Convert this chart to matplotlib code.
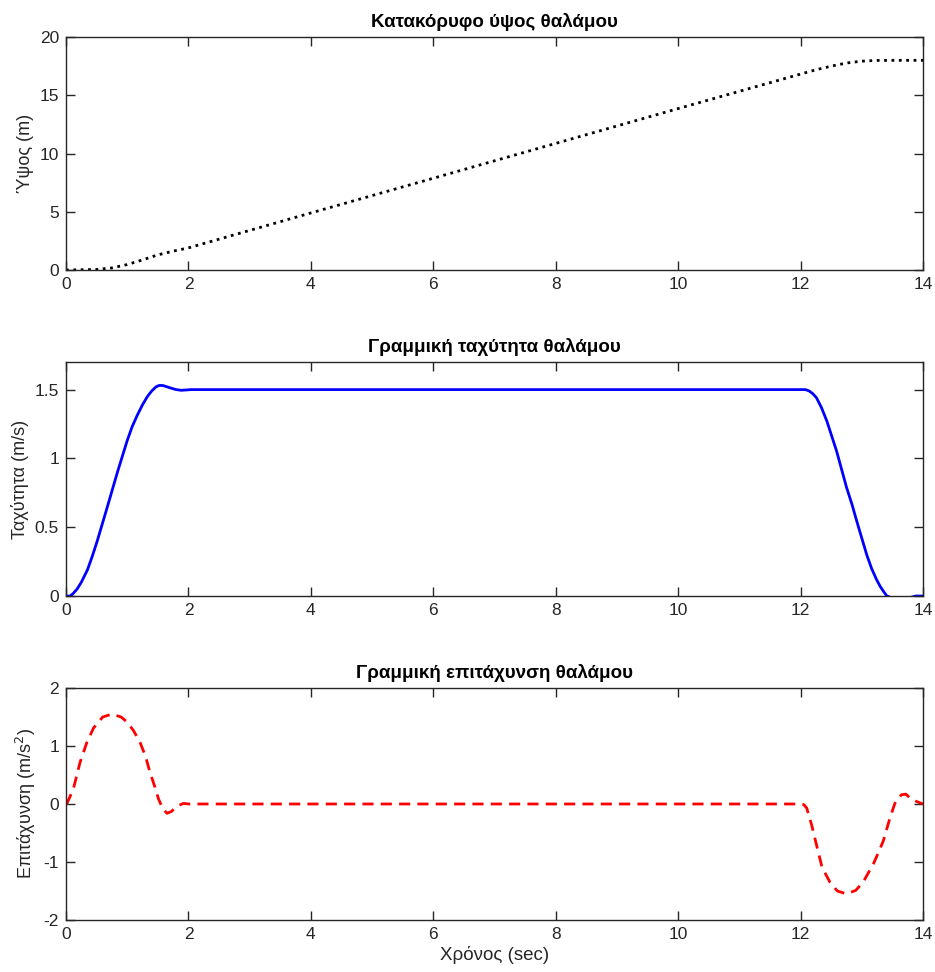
import numpy as np
import matplotlib.pyplot as plt

# values
t_h = [0, 0.5, 0.75, 1.0, 1.25, 1.5, 1.75, 2.0, 4.0, 6.0, 8.0, 10.0, 12.0,
       12.25, 12.5, 12.75, 13.0, 13.25, 13.5, 14.0]
h = [0, 0.05, 0.18, 0.47, 0.87, 1.3, 1.62, 1.9, 4.9, 7.88, 10.87, 13.86, 16.82,
     17.19, 17.5, 17.77, 17.93, 17.99, 18.0, 18.0]

t_v = [0, 0.07, 0.12, 0.18, 0.25, 0.35, 0.43, 0.51, 0.67, 0.84, 1.0, 1.08,
       1.16, 1.25, 1.33, 1.4, 1.47, 1.52, 1.58, 1.65, 1.72, 1.8, 1.88, 1.95,
       2.05, 12.0, 12.08, 12.14, 12.2, 12.26, 12.34, 12.43, 12.51, 12.59,
       12.67, 12.75, 12.84, 12.92, 13.0, 13.08, 13.16, 13.24, 13.3, 13.36,
       13.41, 13.5, 13.65, 13.8, 13.88, 14.0]
v = [0, 0, 0.02, 0.05, 0.1, 0.19, 0.29, 0.40, 0.64, 0.90, 1.13, 1.23,
     1.31, 1.39, 1.45, 1.49, 1.52, 1.53, 1.53, 1.52, 1.51, 1.5, 1.495, 1.497,
     1.5, 1.5, 1.5, 1.49, 1.47, 1.44, 1.37, 1.27, 1.16, 1.05,
     0.92, 0.79, 0.665, 0.54, 0.42, 0.30, 0.2, 0.12, 0.07, 0.03,
     0.0, -0.015, -0.025, -0.01, 0.0, 0.0]

t_a = [0, 0.02, 0.12, 0.23, 0.34, 0.45, 0.6, 0.75, 0.9, 0.99, 1.1, 1.21, 1.3,
       1.37, 1.45, 1.51, 1.58, 1.65, 1.72, 1.78, 1.85, 1.92, 2.0, 12.0, 12.05,
       12.1, 12.18, 12.27, 12.35, 12.48, 12.6, 12.75, 12.9, 13.02, 13.1, 13.19,
       13.27, 13.35, 13.46, 13.54, 13.6, 13.65, 13.72, 13.79, 13.9, 14.0]
a = [0, 0.02, 0.26, 0.72, 1.06, 1.31, 1.5, 1.55, 1.5, 1.42, 1.27, 1.06, 0.82,
     0.55, 0.3, 0.09, -0.08, -0.16, -0.13, -0.07, -0.02, 0.01, 0.0, 0.0, -0.01,
     -0.07, -0.36, -0.75, -1.09, -1.35, -1.5, -1.55, -1.49, -1.35, -1.2, -1.03,
     -0.84, -0.64, -0.24, 0.01, 0.11, 0.16, 0.17, 0.1, 0.04, 0.0]

plt.rcParams['font.family'] = ['Liberation Sans', 'DejaVu Sans']
plt.rcParams['axes.unicode_minus'] = False
edge = '#262626'

fig = plt.figure(figsize=(9.35, 9.72), dpi=100)
ax1 = fig.add_axes([0.0706, 0.7222, 0.9166, 0.2397])
ax2 = fig.add_axes([0.0706, 0.3868, 0.9166, 0.2407])
ax3 = fig.add_axes([0.0706, 0.0535, 0.9166, 0.2387])

ax1.plot(t_h, h, ':', color='k', lw=2)
ax2.plot(t_v, v, '-', color='b', lw=2)
ax3.plot(t_a, a, '--', color='r', lw=2, dashes=(4, 2.6))

ax1.set_ylim(0, 20)
ax1.set_yticks([0, 5, 10, 15, 20])
ax2.set_ylim(0, 1.7)
ax2.set_yticks([0, 0.5, 1, 1.5])
ax2.set_yticklabels(['0', '0.5', '1', '1.5'])
ax3.set_ylim(-2, 2)
ax3.set_yticks([-2, -1, 0, 1, 2])

titles = ['Κατακόρυφο ύψος θαλάμου', 'Γραμμική ταχύτητα θαλάμου',
          'Γραμμική επιτάχυνση θαλάμου']
ylabels = ['Ύψος (m)', 'Ταχύτητα (m/s)', 'Επιτάχυνση (m/s$^2$)']
for ax, tt, yl in zip([ax1, ax2, ax3], titles, ylabels):
    ax.set_xlim(0, 14)
    ax.set_xticks(range(0, 15, 2))
    ax.set_title(tt, fontsize=13.5, fontweight='bold', pad=7, color='k')
    ax.set_ylabel(yl, fontsize=13, color=edge, labelpad=4)
    ax.tick_params(direction='in', top=True, right=True, length=6.5,
                   width=1, labelsize=12.5, colors=edge, pad=5)
    for s in ax.spines.values():
        s.set_color(edge)
        s.set_linewidth(1)

ax3.set_xlabel('Χρόνος (sec)', fontsize=13.5, color=edge, labelpad=3)

fig.savefig('out.png', dpi=100)
